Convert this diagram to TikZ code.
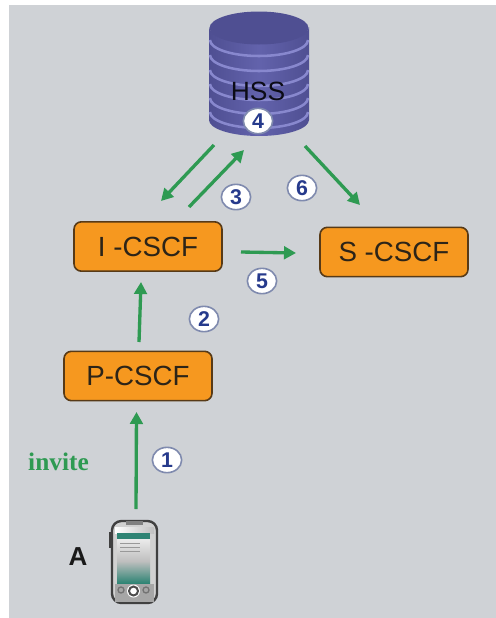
\documentclass[tikz,border=0pt]{standalone}
\usepackage{fontspec}
\setmainfont{Liberation Sans}
\newfontfamily\invitefont{Liberation Serif}
\usetikzlibrary{arrows.meta,shapes.geometric}
\definecolor{bggray}{HTML}{CFD2D6}
\definecolor{boxorange}{HTML}{F6981F}
\definecolor{boxedge}{HTML}{573A17}
\definecolor{labelink}{HTML}{2C2418}
\definecolor{flowgreen}{HTML}{2E9A52}
\definecolor{numblue}{HTML}{263A8C}
\definecolor{numedge}{HTML}{7F8AAE}
\definecolor{diskbody}{HTML}{5C5CA6}
\definecolor{diskdark}{HTML}{4F4F92}
\definecolor{diskring}{HTML}{8888CE}
\definecolor{screenteal}{HTML}{2F8474}
\tikzset{
  cscf/.style={draw=boxedge,fill=boxorange,line width=1.2pt,rounded corners=5.5pt,
    minimum width=111pt,minimum height=37pt,inner sep=0pt,text=labelink,font=\fontsize{20.8pt}{24pt}\selectfont},
  flow/.style={draw=flowgreen,line width=2.5pt,-{Triangle[length=9pt,width=9.5pt]}},
  num/.style={ellipse,draw=numedge,fill=white,line width=1.2pt,minimum width=22pt,minimum height=19pt,inner sep=0pt,
    text=numblue,font=\bfseries\fontsize{16pt}{18pt}\selectfont},
  ring/.style={draw=diskring,line width=1.9pt},
  plain/.style={inner sep=0pt}
}
\begin{document}
\begin{tikzpicture}[x=0.75pt,y=-0.75pt]
\useasboundingbox (0,0) rectangle (496,618);
\fill[white] (0,0) rectangle (496,618);
\fill[bggray] (9,5) rectangle (496,618);

% HSS database
\begin{scope}
  \path[left color=diskdark,right color=diskdark,middle color=diskbody!85!diskring]
    (209,27) -- (209,120) arc[start angle=180,end angle=0,x radius=50,y radius=16] -- (309,27)
    arc[start angle=0,end angle=180,x radius=50,y radius=16] -- cycle;
  \foreach \ry in {40,55,70,84,98,112}
    \draw[ring] (210,\ry) arc[start angle=180,end angle=0,x radius=49,y radius=16];
  \fill[diskdark] (259,28) ellipse[x radius=49.5,y radius=16.5];
\end{scope}
\node[plain,text=black!85!diskdark,font=\fontsize{19.8pt}{22pt}\selectfont] (hss) at (258,91) {HSS};

% Phone
\begin{scope}
  \draw[draw=black!75,line width=1.5pt] (110,532) -- (110,548);
  \draw[draw=black!75,fill=black!18,line width=1.8pt,rounded corners=7pt] (112,521) rectangle (157,603);
  \fill[black!50] (126,521) rectangle (143,525);
  \fill[left color=white,right color=black!25] (115,527) rectangle (154,533);
  \shade[top color=black!8,bottom color=screenteal,middle color=black!25] (117,539) rectangle (150,583);
  \fill[screenteal] (117,533) rectangle (150,539);
  \foreach \ly in {543,547,551} \draw[black!40,line width=.4pt] (120,\ly) -- (140,\ly);
  \fill[black!35] (115,584) rectangle (154,602);
  \fill[white] (133.5,591) circle[radius=6.5];
  \draw[black!70,line width=1.5pt] (133.5,591) circle[radius=4.5];
  \draw[black!55,line width=1pt] (121,590) circle[radius=3];
  \draw[black!55,line width=1pt] (146,590) circle[radius=3];
\end{scope}
\coordinate (phonetop) at (136,509);

% CSCF boxes
\node[cscf] (icscf) at (148,246.5) {I -CSCF};
\node[cscf] (pcscf) at (138,376) {P-CSCF};
\node[cscf] (scscf) at (394,252) {S -CSCF};

% Connector ends
\coordinate (pin) at (136.5,412);
\coordinate (pout) at (139,342);
\coordinate (iin) at (141,282);
\coordinate (iouts) at (241,252);
\coordinate (sin) at (296,253);
\coordinate (hout) at (214,145);
\coordinate (iinh) at (161,201);
\coordinate (iouth) at (189,207);
\coordinate (hin) at (244,150);
\coordinate (houts) at (305,146);
\coordinate (stop) at (360,205);

\draw[flow] (phonetop) -- (pin);
\draw[flow] (pout) -- (iin);
\draw[flow] (iouts) -- (sin);
\draw[flow] (hout) -- (iinh);
\draw[flow] (iouth) -- (hin);
\draw[flow] (houts) -- (stop);

% Step numbers
\node[num] (n1) at (167,460) {1};
\node[num] (n2) at (204,319) {2};
\node[num] (n3) at (236,197) {3};
\node[num] (n4) at (258,121) {4};
\node[num] (n5) at (262,281) {5};
\node[num] (n6) at (302,188) {6};

% Labels
\node[plain,text=flowgreen,font=\invitefont\bfseries\fontsize{19pt}{22pt}\selectfont] (invite) at (58.5,462) {invite};
\node[plain,text=black!90,font=\bfseries\fontsize{19.5pt}{22pt}\selectfont] (labela) at (78,557) {A};
\end{tikzpicture}
\end{document}
